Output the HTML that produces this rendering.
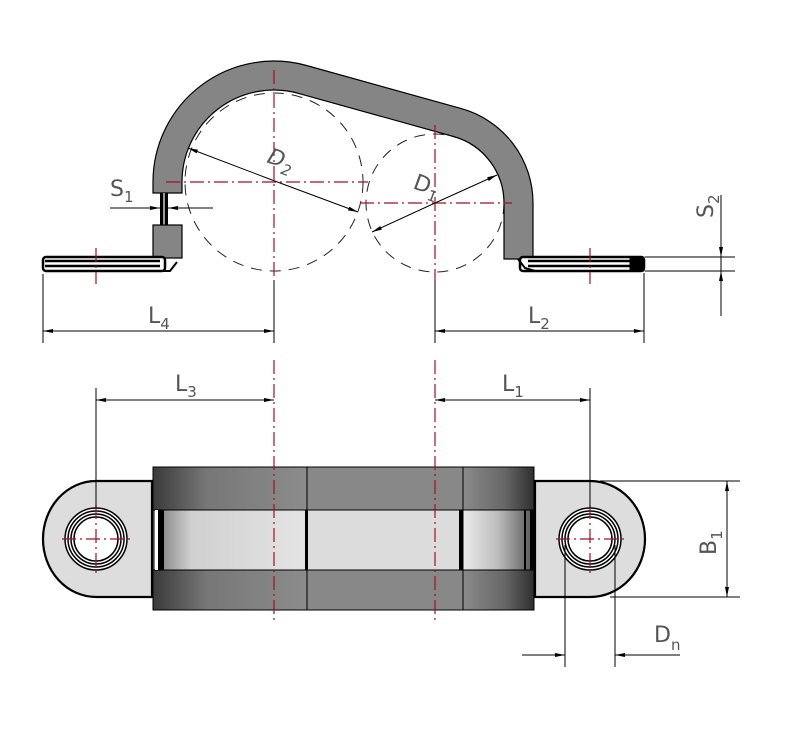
<!DOCTYPE html>
<html><head><meta charset="utf-8"><style>
html,body{margin:0;padding:0;background:#fff;}
svg{display:block;}
text{font-family:"DejaVu Sans","Liberation Sans",sans-serif;fill:#555;}
</style></head><body>
<svg width="797" height="731" viewBox="0 0 797 731" xmlns="http://www.w3.org/2000/svg">
<defs>
<marker id="a" markerWidth="10" markerHeight="6" refX="10" refY="3" orient="auto" markerUnits="userSpaceOnUse"><path d="M0,1 L10,3 L0,5 Z" fill="#000"/></marker>
<linearGradient id="gL" x1="0" x2="1"><stop offset="0" stop-color="#3a3a3a"/><stop offset="0.35" stop-color="#777"/><stop offset="1" stop-color="#8c8c8c"/></linearGradient>
<linearGradient id="gR" x1="0" x2="1"><stop offset="0" stop-color="#8a8a8a"/><stop offset="0.6" stop-color="#666"/><stop offset="1" stop-color="#2e2e2e"/></linearGradient>
<linearGradient id="mL" x1="0" x2="1"><stop offset="0" stop-color="#777"/><stop offset="0.25" stop-color="#d0d0d0"/><stop offset="1" stop-color="#e4e4e4"/></linearGradient>
<linearGradient id="mR" x1="0" x2="1"><stop offset="0" stop-color="#ececec"/><stop offset="0.5" stop-color="#bbb"/><stop offset="1" stop-color="#555"/></linearGradient>
</defs>

<g fill="none" stroke="#222" stroke-width="1" stroke-dasharray="11,8">
<circle cx="274" cy="182" r="89"/>
<circle cx="435" cy="203" r="69"/>
</g>

<path d="M153,193 L153,182 A121,121 0 0 1 306.5,65.5 L461.3,108.6 A98,98 0 0 1 533,203 L533,259 L504,259 L504,203 A69,69 0 0 0 453.5,136.5 L298.7,93.4 A92,92 0 0 0 182,182 L182,193 Z" fill="#858585" stroke="#000" stroke-width="1.2"/>
<rect x="160" y="193" width="8" height="32" fill="#000"/>
<rect x="163" y="193" width="2" height="32" fill="#999"/>
<rect x="153" y="225" width="29" height="33" fill="#858585" stroke="#000" stroke-width="1.2"/>

<g stroke="#000" fill="none">
<rect x="43" y="257" width="122" height="14" rx="3" fill="#fff" stroke-width="2.5"/>
<line x1="45" y1="261" x2="160" y2="261" stroke-width="2.5"/>
<line x1="45" y1="266" x2="160" y2="266" stroke-width="2.5"/>
<path d="M155,271 L170,271 L177,262" stroke-width="2"/>
<rect x="520" y="257" width="124" height="14" rx="3" fill="#fff" stroke-width="2.5"/>
<line x1="528" y1="261" x2="642" y2="261" stroke-width="2.5"/>
<line x1="528" y1="266" x2="642" y2="266" stroke-width="2.5"/>
<rect x="630" y="257" width="14" height="14" fill="#000"/>
<path d="M518,259 L525,268 L535,271" stroke-width="2"/>
</g>

<g stroke="#a01020" stroke-width="1.2" fill="none" stroke-dasharray="14,4,2,4">
<line x1="274" y1="70" x2="274" y2="280"/>
<line x1="166" y1="182" x2="368" y2="182"/>
<line x1="435" y1="125" x2="435" y2="280"/>
<line x1="360" y1="203" x2="512" y2="203"/>
<line x1="96" y1="248" x2="96" y2="284"/>
<line x1="590" y1="248" x2="590" y2="284"/>
</g>

<g stroke="#000" stroke-width="1" fill="none">
<line x1="43" y1="274" x2="43" y2="343"/>
<line x1="274" y1="280" x2="274" y2="343"/>
<line x1="435" y1="280" x2="435" y2="343"/>
<line x1="644" y1="273" x2="644" y2="343"/>
<line x1="43" y1="331" x2="274" y2="331" marker-end="url(#a)"/>
<line x1="435" y1="331" x2="644" y2="331" marker-end="url(#a)"/>
<line x1="645" y1="257" x2="735" y2="257"/>
<line x1="645" y1="271" x2="735" y2="271"/>
<line x1="721" y1="195" x2="721" y2="316"/>
<line x1="721" y1="230" x2="721" y2="257" marker-end="url(#a)"/>
<line x1="721" y1="298" x2="721" y2="271" marker-end="url(#a)"/>
<line x1="110" y1="208" x2="160" y2="208" marker-end="url(#a)"/>
<line x1="213" y1="208" x2="168" y2="208" marker-end="url(#a)"/>
<line x1="272" y1="180" x2="188" y2="148" marker-end="url(#a)"/>
<line x1="272" y1="180" x2="358" y2="212" marker-end="url(#a)"/>
<line x1="435" y1="203" x2="497" y2="175" marker-end="url(#a)"/>
<line x1="435" y1="203" x2="372" y2="232" marker-end="url(#a)"/>
</g>
<path d="M53,329 L43,331 L53,333Z M445,329 L435,331 L445,333Z" fill="#000"/>

<text x="148" y="323" font-size="22">L<tspan font-size="15" dy="6">4</tspan></text>
<text x="528" y="323" font-size="22">L<tspan font-size="15" dy="6">2</tspan></text>
<text x="110" y="196" font-size="22">S<tspan font-size="15" dy="6">1</tspan></text>
<text transform="translate(713,218) rotate(-90)" font-size="22">S<tspan font-size="15" dy="6">2</tspan></text>
<text transform="translate(266,162) rotate(20)" font-size="22" font-style="italic">D<tspan font-size="15" dy="6">2</tspan></text>
<text transform="translate(412,188) rotate(20)" font-size="22">D<tspan font-size="15" dy="6">1</tspan></text>

<g stroke="#000" stroke-width="1">
<rect x="153" y="467" width="154" height="43" fill="url(#gL)"/>
<rect x="153" y="570" width="154" height="40" fill="url(#gL)"/>
<rect x="307" y="467" width="156" height="43" fill="#888"/>
<rect x="307" y="570" width="156" height="40" fill="#888"/>
<rect x="463" y="467" width="71" height="43" fill="url(#gR)"/>
<rect x="463" y="570" width="71" height="40" fill="url(#gR)"/>
<rect x="153" y="510" width="154" height="60" fill="url(#mL)"/>
<rect x="307" y="510" width="156" height="60" fill="#dcdcdc"/>
<rect x="463" y="510" width="71" height="60" fill="url(#mR)"/>
</g>
<rect x="155" y="510" width="3" height="60" fill="#fff"/>
<rect x="158" y="510" width="6" height="60" fill="#000"/>
<rect x="305" y="510" width="3" height="60" fill="#000"/>
<rect x="459" y="510" width="4" height="60" fill="#000"/>
<rect x="524" y="510" width="2" height="60" fill="#000"/>
<rect x="530" y="510" width="4" height="60" fill="#000"/>

<path d="M152,481 L96,481 A53,58 0 0 0 96,597 L152,597 Z" fill="#ddd" stroke="#000" stroke-width="2.2"/>
<path d="M535,481 L590,481 A55,58 0 0 1 590,597 L535,597 Z" fill="#ddd" stroke="#000" stroke-width="2.2"/>
<g fill="none" stroke="#000" stroke-width="1.5">
<circle cx="96" cy="539" r="31" fill="#fff"/><circle cx="96" cy="539" r="28"/><circle cx="96" cy="539" r="25"/><circle cx="96" cy="539" r="22"/>
<circle cx="590" cy="539" r="31" fill="#fff"/><circle cx="590" cy="539" r="28"/><circle cx="590" cy="539" r="25"/><circle cx="590" cy="539" r="22"/>
</g>

<g stroke="#a01020" stroke-width="1.2" fill="none" stroke-dasharray="14,4,2,4">
<line x1="274" y1="360" x2="274" y2="622"/>
<line x1="435" y1="360" x2="435" y2="622"/>
<line x1="62" y1="539" x2="130" y2="539"/>
<line x1="96" y1="505" x2="96" y2="573"/>
<line x1="556" y1="539" x2="624" y2="539"/>
<line x1="590" y1="505" x2="590" y2="573"/>
</g>

<g stroke="#000" stroke-width="1" fill="none">
<line x1="96" y1="388" x2="96" y2="508"/>
<line x1="590" y1="388" x2="590" y2="508"/>
<line x1="274" y1="400" x2="96" y2="400" marker-end="url(#a)"/>
<line x1="96" y1="400" x2="274" y2="400" marker-end="url(#a)"/>
<line x1="590" y1="400" x2="435" y2="400" marker-end="url(#a)"/>
<line x1="435" y1="400" x2="590" y2="400" marker-end="url(#a)"/>
<line x1="600" y1="481" x2="740" y2="481"/>
<line x1="610" y1="597" x2="740" y2="597"/>
<line x1="727" y1="539" x2="727" y2="481" marker-end="url(#a)"/>
<line x1="727" y1="539" x2="727" y2="597" marker-end="url(#a)"/>
<line x1="565" y1="545" x2="565" y2="667"/>
<line x1="615" y1="545" x2="615" y2="667"/>
<line x1="522" y1="655" x2="565" y2="655" marker-end="url(#a)"/>
<line x1="680" y1="655" x2="615" y2="655" marker-end="url(#a)"/>
</g>
<text x="175" y="391" font-size="22">L<tspan font-size="15" dy="6">3</tspan></text>
<text x="502" y="391" font-size="22">L<tspan font-size="15" dy="6">1</tspan></text>
<text transform="translate(716,555) rotate(-90)" font-size="22">B<tspan font-size="15" dy="6">1</tspan></text>
<text x="654" y="642" font-size="22">D<tspan font-size="15" dy="8">n</tspan></text>
</svg>
</body></html>
